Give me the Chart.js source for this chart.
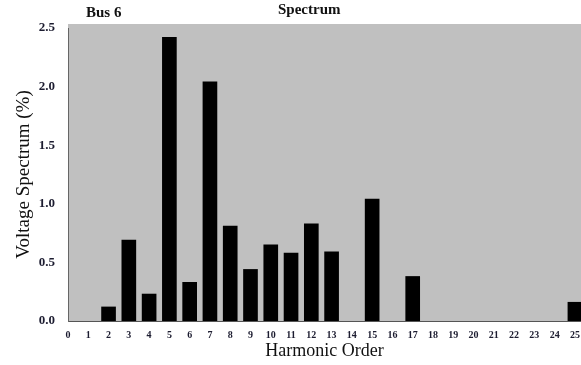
<!DOCTYPE html>
<html lang="en">
<head>
    <meta charset="UTF-8">
    <title>Bus 6 Spectrum</title>
    <script src="https://cdn.jsdelivr.net/npm/chart.js"></script>
    <style>
        html, body {
            margin: 0;
            padding: 0;
            background: #fff;
        }
        .wrap {
            position: relative;
            width: 581px;
            height: 365px;
        }
        .label {
            position: absolute;
            font-family: "Liberation Serif", serif;
            font-weight: bold;
            font-size: 15px;
            color: #111;
            white-space: nowrap;
        }
        #bus { left: 86px; top: 4px; }
        #spec { left: 278px; top: 1px; }
    </style>
</head>
<body>

<div class="wrap">
    <canvas id="chart" width="581" height="365"></canvas>
    <div class="label" id="bus">Bus 6</div>
    <div class="label" id="spec">Spectrum</div>
</div>

<script>
    // harmonic orders that have a bar and their voltage spectrum (%)
    const harmonics = [2, 3, 4, 5, 6, 7, 8, 9, 10, 11, 12, 13, 15, 17, 25];
    const spectrum = [0.12, 0.69, 0.23, 2.42, 0.33, 2.04, 0.81, 0.44, 0.65, 0.58, 0.83, 0.59, 1.04, 0.38, 0.16];

    // tick labels
    const xTicks = [0, 1, 2, 3, 4, 5, 6, 7, 8, 9, 10, 11, 12, 13, 14, 15, 16, 17, 18, 19, 20, 21, 22, 23, 24, 25];
    const yTicks = [0, 0.5, 1.0, 1.5, 2.0, 2.5];

    // grey plot background
    const plotBg = {
        id: 'plotBg',
        beforeDraw(chart) {
            const { ctx, chartArea: a } = chart;
            ctx.save();
            ctx.fillStyle = '#c0c0c0';
            ctx.fillRect(a.left, a.top - 4, a.right - a.left, a.bottom - a.top + 4);
            ctx.restore();
        }
    };

    new Chart(document.getElementById('chart'), {
        type: 'bar',
        data: {
            datasets: [{
                data: harmonics.map((h, i) => ({ x: h, y: spectrum[i] })),
                backgroundColor: '#000',
                borderWidth: 0,
                barThickness: 14
            }]
        },
        options: {
            responsive: false,
            animation: false,
            layout: { padding: { top: 28, right: 0, left: 0, bottom: 0 } },
            plugins: {
                legend: { display: false },
                tooltip: { enabled: false }
            },
            scales: {
                x: {
                    type: 'linear',
                    min: 0,
                    max: 25.3,
                    offset: false,
                    afterBuildTicks: s => { s.ticks = xTicks.map(v => ({ value: v })); },
                    afterFit: s => { s.height = 44; s.paddingLeft = 0; s.paddingRight = 0; },
                    grid: { display: false },
                    border: { display: true, color: '#555', width: 1 },
                    ticks: {
                        autoSkip: false,
                        maxRotation: 0,
                        padding: 0,
                        color: '#1c1c30',
                        font: { family: 'Liberation Serif', size: 10, weight: 'bold' }
                    },
                    title: {
                        display: true,
                        text: 'Harmonic Order',
                        color: '#111',
                        padding: { top: 0, bottom: 3 },
                        font: { family: 'Liberation Serif', size: 18 }
                    }
                },
                y: {
                    min: 0,
                    max: 2.5,
                    afterBuildTicks: s => { s.ticks = yTicks.map(v => ({ value: v })); },
                    afterFit: s => { s.width = 68; s.paddingTop = 0; s.paddingBottom = 0; },
                    grid: { display: false },
                    border: { display: true, color: '#666', width: 1, dash: [2, 2] },
                    ticks: {
                        padding: 5,
                        color: '#1c1c30',
                        callback: v => v.toFixed(1),
                        font: { family: 'Liberation Serif', size: 13, weight: 'bold' }
                    },
                    title: {
                        display: true,
                        text: 'Voltage Spectrum (%)',
                        color: '#111',
                        padding: { top: 13, bottom: 0 },
                        font: { family: 'Liberation Serif', size: 19 }
                    }
                }
            }
        },
        plugins: [plotBg]
    });
</script>

</body>
</html>
